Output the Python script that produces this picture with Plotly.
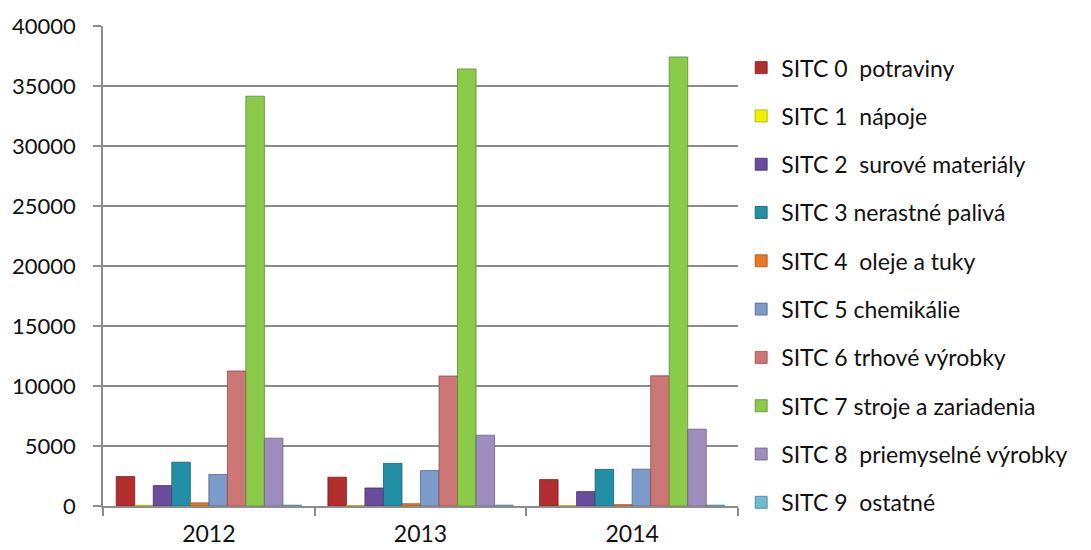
import plotly.graph_objects as go

years = ["2012", "2013", "2014"]
series_names = [
    "SITC 0  potraviny",
    "SITC 1  nápoje",
    "SITC 2  surové materiály",
    "SITC 3 nerastné palivá",
    "SITC 4  oleje a tuky",
    "SITC 5 chemikálie",
    "SITC 6 trhové výrobky",
    "SITC 7 stroje a zariadenia",
    "SITC 8  priemyselné výrobky",
    "SITC 9  ostatné",
]
sitc0 = [2450, 2400, 2200]
sitc1 = [60, 40, 30]
sitc2 = [1700, 1500, 1200]
sitc3 = [3650, 3550, 3050]
sitc4 = [260, 190, 110]
sitc5 = [2620, 2950, 3070]
sitc6 = [11250, 10830, 10850]
sitc7 = [34150, 36420, 37420]
sitc8 = [5650, 5900, 6400]
sitc9 = [70, 70, 70]
series_values = [sitc0, sitc1, sitc2, sitc3, sitc4, sitc5, sitc6, sitc7, sitc8, sitc9]
y_ticks = [0, 5000, 10000, 15000, 20000, 25000, 30000, 35000, 40000]

colors = ["#B22E2E", "#F2F200", "#6A4C9C", "#238FA6", "#E87A24",
          "#7C9ACA", "#CC7676", "#8CCB4A", "#9E8EBE", "#6BBCCF"]
lines = ["#7A1E1E", "#A8A800", "#45306A", "#17606F", "#A4531A",
         "#52678A", "#8E4F4F", "#5E8A30", "#6C6084", "#4A8290"]

FONT = "Lato, Carlito, Calibri, sans-serif"

fig = go.Figure()
for i, (name, vals) in enumerate(zip(series_names, series_values)):
    fig.add_trace(go.Bar(
        x=years, y=vals, name=name, legendgroup=f"g{i}",
        marker=dict(color=colors[i], line=dict(color=lines[i], width=0.8)),
    ))

fig.update_layout(
    width=1091, height=550,
    margin=dict(l=95, r=361, t=18, b=52, autoexpand=False),
    paper_bgcolor="white", plot_bgcolor="white",
    barmode="group", bargap=0.125, bargroupgap=0,
    font=dict(family=FONT, size=22, color="#111111"),
    showlegend=True,
    legend=dict(
        x=1.005, xanchor="left", y=0.958, yanchor="top",
        font=dict(family=FONT, size=23, color="#111111"),
        tracegroupgap=15.4, itemwidth=30, maxheight=700,
        bgcolor="rgba(0,0,0,0)",
    ),
)
fig.update_xaxes(
    type="category", showline=True, linecolor="#8c8c8c", linewidth=1.5,
    ticks="outside", tickson="boundaries", ticklen=8, tickcolor="#8c8c8c",
    tickwidth=1.5, showgrid=False, ticklabelstandoff=7, automargin=False,
    tickfont=dict(family=FONT, size=23, color="#111111"),
)
fig.update_yaxes(
    range=[0, 40000], tickvals=y_ticks, ticktext=[str(v) for v in y_ticks],
    showgrid=True, gridcolor="#8c8c8c", gridwidth=1.5,
    showline=True, linecolor="#8c8c8c", linewidth=1.5,
    ticks="outside", ticklen=8, tickcolor="#8c8c8c", tickwidth=1.5,
    ticklabelstandoff=13, zeroline=False, automargin=False,
    tickfont=dict(family=FONT, size=22, color="#111111"),
)

fig.write_html("out.html")
